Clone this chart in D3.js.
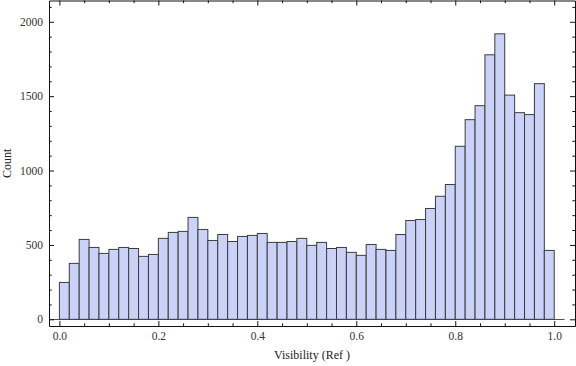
<!DOCTYPE html>
<html>
<head>
<meta charset="utf-8">
<script src="https://cdn.jsdelivr.net/npm/d3@7"></script>
<style>
  body { margin: 0; background: #fff; }
  svg { display: block; font-family: "Liberation Serif", "DejaVu Serif", serif; }
</style>
</head>
<body>
<div id="chart"></div>
<script>
// bin counts, 50 bins of width 0.02 on [0, 1]
const binWidth = 0.02;
const counts = [
  248, 376, 537, 483, 443, 470, 483, 476, 423, 436,
  544, 584, 591, 685, 604, 530, 570, 523, 557, 564,
  577, 517, 517, 523, 544, 497, 517, 476, 483, 450,
  430, 503, 470, 463, 570, 664, 671, 745, 827, 906,
  1163, 1342, 1436, 1778, 1919, 1507, 1389, 1376, 1584, 463,
];
const xMajorTicks = [0, 0.2, 0.4, 0.6, 0.8, 1.0];
const yMajorTicks = [0, 500, 1000, 1500, 2000];
const xLabel = 'Visibility (Ref )';
const yLabel = 'Count';

const width = 576;
const height = 366;
const frame = { left: 49, right: 575, top: 0.5, bottom: 326 };

const bins = counts.map((c, i) => ({ x0: i * binWidth, x1: (i + 1) * binWidth, count: c }));

const x = d3.scaleLinear().domain([-0.021, 1.042]).range([frame.left, frame.right]);
const y = d3.scaleLinear().domain([-45, 2143]).range([frame.bottom, frame.top]);

const svg = d3.select('#chart').append('svg')
  .attr('width', width)
  .attr('height', height);

// axis line at zero
svg.append('line')
  .attr('x1', x(-0.02)).attr('x2', x(1.021))
  .attr('y1', Math.round(y(0)) + 0.5).attr('y2', Math.round(y(0)) + 0.5)
  .attr('stroke', '#555')
  .attr('stroke-width', 1);

// bars
svg.append('g')
  .selectAll('rect')
  .data(bins)
  .join('rect')
  .attr('x', (d) => x(d.x0))
  .attr('y', (d) => y(d.count))
  .attr('width', (d) => x(d.x1) - x(d.x0))
  .attr('height', (d) => y(0) - y(d.count))
  .attr('fill', '#cbd2f7')
  .attr('stroke', '#3c3c3c')
  .attr('stroke-width', 1);

// frame axes, ticks on all four sides, labels on left and bottom
const xMinor = d3.range(0, 1.0001, 0.05).filter((v) => !xMajorTicks.some((t) => Math.abs(t - v) < 1e-6));
const yMinor = d3.range(0, 2101, 100).filter((v) => !yMajorTicks.includes(v));

function drawAxis(axis, transform, ticks, minor, withLabels, fmt) {
  const g = svg.append('g').attr('transform', transform);
  g.call(axis.tickValues(ticks).tickSize(5).tickSizeOuter(0).tickPadding(4)
    .tickFormat(withLabels ? fmt : () => ''));
  g.append('g').call(axis.tickValues(minor).tickSize(2.7).tickFormat(() => ''))
    .select('.domain').remove();
  g.selectAll('.domain').attr('stroke', '#111');
  g.selectAll('line').attr('stroke', '#111');
  g.selectAll('text')
    .attr('fill', '#333')
    .style('font-size', '11.5px')
    .style('font-family', '"Liberation Serif", "DejaVu Serif", serif');
  return g;
}

// bottom: ticks point up (inside)
drawAxis(d3.axisTop(x), `translate(0,${frame.bottom})`, xMajorTicks, xMinor, true, d3.format('.1f'))
  .selectAll('.tick text').attr('y', 14).attr('dy', 0);
// top
drawAxis(d3.axisBottom(x), `translate(0,${frame.top})`, xMajorTicks, xMinor, false);
// left: ticks point right (inside)
drawAxis(d3.axisRight(y), `translate(${frame.left},0)`, yMajorTicks, yMinor, true, d3.format('d'))
  .selectAll('.tick text').attr('x', -6).attr('text-anchor', 'end');
// right
drawAxis(d3.axisLeft(y), `translate(${frame.right},0)`, yMajorTicks, yMinor, false);

svg.append('text')
  .attr('x', (frame.left + frame.right) / 2)
  .attr('y', 359)
  .attr('text-anchor', 'middle')
  .attr('fill', '#222')
  .style('font-size', '12px')
  .text(xLabel);

svg.append('text')
  .attr('transform', `translate(11,${(frame.top + frame.bottom) / 2}) rotate(-90)`)
  .attr('text-anchor', 'middle')
  .attr('fill', '#222')
  .style('font-size', '12px')
  .text(yLabel);
</script>
</body>
</html>
